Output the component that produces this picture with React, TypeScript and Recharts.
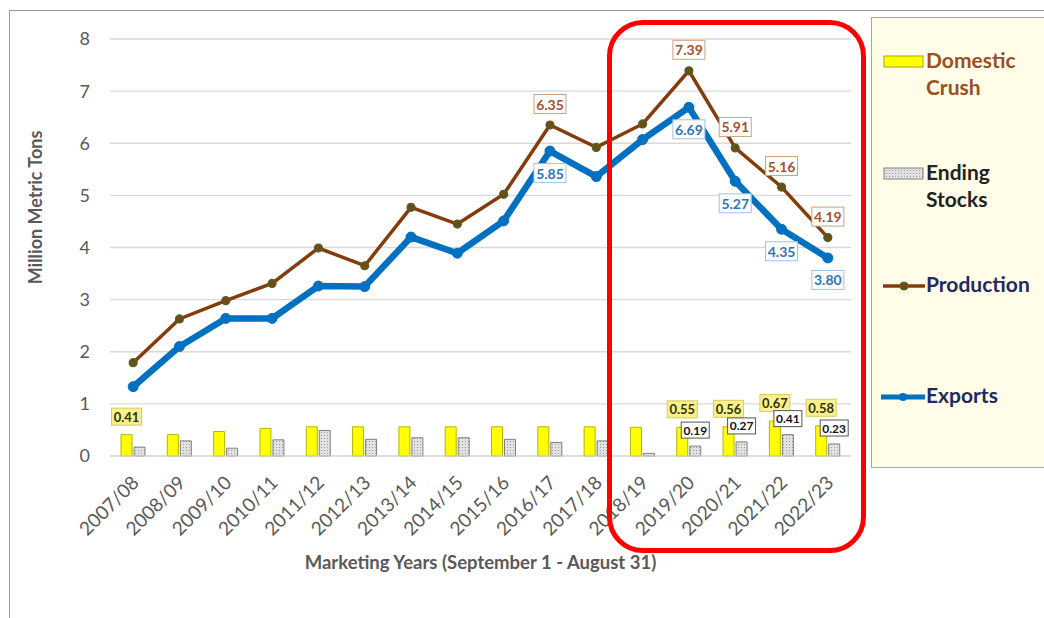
import React from 'react'
import { ComposedChart, Bar, Line, XAxis, YAxis, CartesianGrid, LabelList } from 'recharts'

const years = [
  '2007/08', '2008/09', '2009/10', '2010/11', '2011/12', '2012/13', '2013/14', '2014/15',
  '2015/16', '2016/17', '2017/18', '2018/19', '2019/20', '2020/21', '2021/22', '2022/23',
]
const domesticCrush = [0.41, 0.41, 0.47, 0.53, 0.56, 0.56, 0.56, 0.56, 0.56, 0.56, 0.56, 0.55, 0.55, 0.56, 0.67, 0.58]
const endingStocks = [0.17, 0.29, 0.15, 0.31, 0.49, 0.32, 0.35, 0.35, 0.32, 0.26, 0.29, 0.05, 0.19, 0.27, 0.41, 0.23]
const production = [1.79, 2.63, 2.98, 3.31, 3.99, 3.65, 4.77, 4.45, 5.02, 6.35, 5.92, 6.37, 7.39, 5.91, 5.16, 4.19]
const exportsVals = [1.33, 2.1, 2.64, 2.64, 3.26, 3.25, 4.2, 3.89, 4.51, 5.85, 5.36, 6.07, 6.69, 5.27, 4.35, 3.8]
const yTicks = [0, 1, 2, 3, 4, 5, 6, 7, 8]

// which years carry a value box
const prodLabelled = ['2016/17', '2019/20', '2020/21', '2021/22', '2022/23']
const expLabelled = ['2016/17', '2019/20', '2020/21', '2021/22', '2022/23']
const crushLabelled = ['2007/08', '2019/20', '2020/21', '2021/22', '2022/23']
const stocksLabelled = ['2019/20', '2020/21', '2021/22', '2022/23']

const data = years.map((y, i) => ({
  year: y,
  crush: domesticCrush[i],
  stocks: endingStocks[i],
  production: production[i],
  exports: exportsVals[i],
}))

const FONT = 'Lato, "Open Sans", sans-serif'

type BoxStyle = {
  w: number
  h: number
  fill: string
  stroke: string
  color: string
  size: number
  dy: number
}

const boxLabel = (shown: string[], s: BoxStyle) => (props: any) => {
  const { index, value } = props
  if (!shown.includes(years[index])) return null
  const vb = props.viewBox || {}
  const x = props.x ?? vb.x
  const y = props.y ?? vb.y
  const w = props.width ?? vb.width ?? 0
  const cx = x + w / 2
  const cy = y + s.dy
  return (
    <g>
      <rect x={cx - s.w / 2} y={cy - s.h / 2} width={s.w} height={s.h} fill={s.fill} stroke={s.stroke} strokeWidth={1} />
      <text x={cx} y={cy} textAnchor="middle" dominantBaseline="central" fontSize={s.size} fontWeight={700} fill={s.color} fontFamily={FONT}>
        {Number(value).toFixed(2)}
      </text>
    </g>
  )
}

const YearTick = (props: any) => {
  const { x, y, payload } = props
  const ax = x + 7
  const ay = y + 20
  return (
    <text x={ax} y={ay} textAnchor="end" transform={`rotate(-45, ${ax}, ${ay})`} fontSize={19} fill="#595959" fontFamily={FONT}>
      {payload.value}
    </text>
  )
}

const ProdDot = (props: any) => (
  <circle cx={props.cx} cy={props.cy} r={4} fill="#6B4E16" stroke="#4F6228" strokeWidth={1.2} />
)

export default function App() {
  return (
    <div style={{ position: 'absolute', left: 0, top: 0, width: 1044, height: 618, background: '#fff', overflow: 'hidden', fontFamily: FONT }}>
      {/* marco exterior */}
      <div style={{ position: 'absolute', left: 9, top: 10, width: 1100, height: 700, borderLeft: '1px solid #9a9a9a', borderTop: '1px solid #9a9a9a' }} />

      <div style={{ position: 'absolute', left: 0, top: 0 }}>
        <ComposedChart
          width={1044}
          height={618}
          data={data}
          margin={{ top: 39, right: 193, bottom: 62, left: 50 }}
          barSize={11}
          barGap={2}
        >
          <defs>
            <pattern id="stipple" width="3" height="3" patternUnits="userSpaceOnUse">
              <rect width="3" height="3" fill="#E2E2E2" />
              <rect width="1" height="1" fill="#9A9A9A" />
            </pattern>
          </defs>
          <CartesianGrid vertical={false} stroke="#D9D9D9" strokeWidth={1.3} />
          <XAxis
            dataKey="year"
            height={100}
            interval={0}
            axisLine={{ stroke: '#D9D9D9' }}
            tickLine={false}
            tick={<YearTick />}
            label={{
              content: (p: any) => {
                const vb = p.viewBox || {}
                return (
                  <text x={vb.x + vb.width / 2} y={vb.y + 106} textAnchor="middle" dominantBaseline="central" fontSize={18.5} fontWeight={700} fill="#595959" fontFamily={FONT}>
                    Marketing Years (September 1 - August 31)
                  </text>
                )
              },
            }}
          />
          <YAxis
            width={60}
            domain={[0, 8]}
            ticks={yTicks}
            axisLine={false}
            tickLine={false}
            tickSize={6}
            tickMargin={14}
            tick={{ fontSize: 18, fill: '#595959', fontFamily: FONT }}
            label={{
              content: (p: any) => {
                const vb = p.viewBox || {}
                const lx = vb.x - 15
                const ly = vb.y + vb.height / 2 - 40
                return (
                  <text x={lx} y={ly} transform={`rotate(-90, ${lx}, ${ly})`} textAnchor="middle" dominantBaseline="central" fontSize={18} fontWeight={700} fill="#595959" fontFamily={FONT}>
                    Million Metric Tons
                  </text>
                )
              },
            }}
          />
          <Bar dataKey="crush" fill="#FFFF00" stroke="#B5B500" strokeWidth={1} isAnimationActive={false}>
            <LabelList
              dataKey="crush"
              content={boxLabel(crushLabelled, { w: 30, h: 17, fill: '#F9F18E', stroke: '#D8CC5A', color: '#333300', size: 13, dy: -18 })}
            />
          </Bar>
          <Bar dataKey="stocks" fill="url(#stipple)" stroke="#7F7F7F" strokeWidth={1} isAnimationActive={false}>
            <LabelList
              dataKey="stocks"
              content={boxLabel(stocksLabelled, { w: 28, h: 16, fill: '#FFFFFF', stroke: '#555555', color: '#111111', size: 12, dy: -16 })}
            />
          </Bar>
          <Line
            dataKey="production"
            stroke="#843C0C"
            strokeWidth={3.5}
            dot={<ProdDot />}
            activeDot={false}
            isAnimationActive={false}
          >
            <LabelList
              dataKey="production"
              content={boxLabel(prodLabelled, { w: 32, h: 19, fill: '#FFFFFF', stroke: '#C9A283', color: '#A0522D', size: 14, dy: -21 })}
            />
          </Line>
          <Line
            dataKey="exports"
            stroke="#0070C0"
            strokeWidth={6.5}
            dot={{ r: 5, fill: '#0070C0', stroke: '#0070C0', strokeWidth: 1 }}
            activeDot={false}
            isAnimationActive={false}
          >
            <LabelList
              dataKey="exports"
              content={boxLabel(expLabelled, { w: 32, h: 19, fill: '#FFFFFF', stroke: '#9DC3E6', color: '#2E75B6', size: 14, dy: 22 })}
            />
          </Line>
        </ComposedChart>
      </div>

      {/* leyenda */}
      <div style={{ position: 'absolute', left: 871, top: 17, width: 180, height: 451, background: '#FFFDE8', border: '1px solid #A6A6A6', boxSizing: 'border-box' }}>
        <svg width={44} height={14} style={{ position: 'absolute', left: 11, top: 37 }}>
          <rect x={1} y={1} width={39} height={11} fill="#FFFF00" stroke="#A6A600" />
        </svg>
        <div style={{ position: 'absolute', left: 54, top: 28, fontSize: 21, lineHeight: '27px', fontWeight: 700, color: '#9C4F1E' }}>
          Domestic<br />Crush
        </div>

        <svg width={44} height={14} style={{ position: 'absolute', left: 11, top: 149 }}>
          <defs>
            <pattern id="stippleLeg" width="3" height="3" patternUnits="userSpaceOnUse">
              <rect width="3" height="3" fill="#E2E2E2" />
              <rect width="1" height="1" fill="#9A9A9A" />
            </pattern>
          </defs>
          <rect x={1} y={1} width={39} height={11} fill="url(#stippleLeg)" stroke="#7F7F7F" />
        </svg>
        <div style={{ position: 'absolute', left: 54, top: 140, fontSize: 21, lineHeight: '27px', fontWeight: 700, color: '#222222' }}>
          Ending<br />Stocks
        </div>

        <svg width={44} height={14} style={{ position: 'absolute', left: 11, top: 261 }}>
          <line x1={0} y1={7} x2={42} y2={7} stroke="#843C0C" strokeWidth={3.5} />
          <circle cx={21} cy={7} r={4} fill="#6B4E16" stroke="#4F6228" />
        </svg>
        <div style={{ position: 'absolute', left: 54, top: 252, fontSize: 21, lineHeight: '27px', fontWeight: 700, color: '#1F2A60' }}>
          Production
        </div>

        <svg width={44} height={14} style={{ position: 'absolute', left: 9, top: 372 }}>
          <line x1={0} y1={7} x2={44} y2={7} stroke="#0070C0" strokeWidth={5} strokeLinecap="round" />
          <circle cx={22} cy={7} r={4} fill="#0070C0" />
        </svg>
        <div style={{ position: 'absolute', left: 54, top: 363, fontSize: 21, lineHeight: '27px', fontWeight: 700, color: '#1F2A60' }}>
          Exports
        </div>
      </div>

      {/* recuadro rojo */}
      <div style={{ position: 'absolute', left: 607, top: 20, width: 259, height: 533, border: '5px solid #FF0000', borderRadius: 36, boxSizing: 'border-box', pointerEvents: 'none' }} />
    </div>
  )
}
